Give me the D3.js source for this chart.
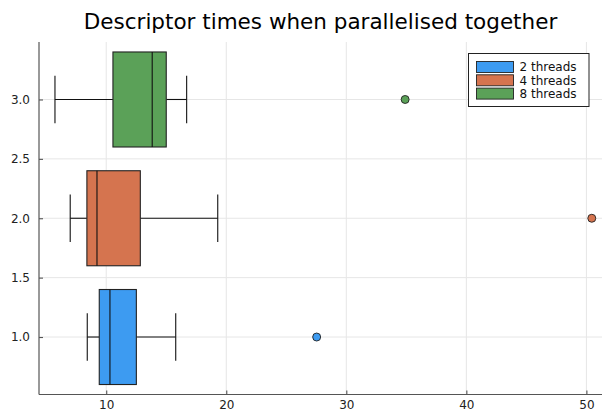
<!DOCTYPE html>
<html>
<head>
<meta charset="utf-8">
<script src="https://cdn.jsdelivr.net/npm/d3@7"></script>
<style>
  html, body { margin: 0; padding: 0; background: #fff; }
  svg { display: block; font-family: "DejaVu Sans", sans-serif; }
</style>
</head>
<body>
<svg id="chart" width="603" height="412"></svg>
<script>
// Five-number summaries per thread count (seconds)
const seriesNames = ["2 threads", "4 threads", "8 threads"];
const positions   = [1, 2, 3];
const whiskerLow  = [8.42, 7.0, 5.73];
const quartile1   = [9.42, 8.39, 10.56];
const medians     = [10.31, 9.23, 13.83];
const quartile3   = [12.51, 12.84, 15.0];
const whiskerHigh = [15.79, 19.29, 16.70];
const outliers    = [[27.53], [50.45], [34.9]];
const colors      = ["#3d9bf1", "#d5744f", "#5ba158"];

const xTicks = [10, 20, 30, 40, 50];
const yTicks = [1.0, 1.5, 2.0, 2.5, 3.0];

const svg = d3.select("#chart");
const plot = { left: 39, right: 602, top: 42, bottom: 394.5 };

const x = d3.scaleLinear().domain([4.4, 51.3]).range([plot.left, plot.right]);
const y = d3.scaleLinear().domain([0.516, 3.484]).range([plot.bottom, plot.top]);

// grid
const grid = svg.append("g").attr("stroke", "#e6e6e6").attr("stroke-width", 1);
grid.selectAll(".gx").data(xTicks).join("line")
  .attr("x1", d => x(d)).attr("x2", d => x(d))
  .attr("y1", plot.top).attr("y2", plot.bottom);
grid.selectAll(".gy").data(yTicks).join("line")
  .attr("x1", plot.left).attr("x2", plot.right)
  .attr("y1", d => y(d)).attr("y2", d => y(d));

// boxes
const halfW = 0.4, capHalf = 0.2;
const boxes = svg.append("g");
positions.forEach((p, i) => {
  const g = boxes.append("g");
  const line = (x1, y1, x2, y2) => g.append("line")
    .attr("x1", x1).attr("y1", y1).attr("x2", x2).attr("y2", y2)
    .attr("stroke", "#111").attr("stroke-width", 1.1);
  // whiskers
  line(x(whiskerLow[i]), y(p), x(quartile1[i]), y(p));
  line(x(quartile3[i]), y(p), x(whiskerHigh[i]), y(p));
  line(x(whiskerLow[i]), y(p - capHalf), x(whiskerLow[i]), y(p + capHalf));
  line(x(whiskerHigh[i]), y(p - capHalf), x(whiskerHigh[i]), y(p + capHalf));
  // box
  g.append("rect")
    .attr("x", x(quartile1[i])).attr("y", y(p + halfW))
    .attr("width", x(quartile3[i]) - x(quartile1[i]))
    .attr("height", y(p - halfW) - y(p + halfW))
    .attr("fill", colors[i]).attr("stroke", "#222").attr("stroke-width", 1.1);
  line(x(medians[i]), y(p + halfW), x(medians[i]), y(p - halfW));
  // outliers
  g.selectAll("circle").data(outliers[i]).join("circle")
    .attr("cx", d => x(d)).attr("cy", y(p)).attr("r", 4)
    .attr("fill", colors[i]).attr("stroke", "#222").attr("stroke-width", 0.9);
});

// axes
const xAxis = d3.axisBottom(x).tickValues(xTicks).tickSizeInner(-4).tickSizeOuter(0)
  .tickFormat(d3.format("d")).tickPadding(6);
const yAxis = d3.axisLeft(y).tickValues(yTicks).tickSizeInner(-4).tickSizeOuter(0)
  .tickFormat(d3.format(".1f")).tickPadding(9);

const gx = svg.append("g").attr("transform", `translate(0,${plot.bottom})`).call(xAxis);
const gy = svg.append("g").attr("transform", `translate(${plot.left},0)`).call(yAxis);
[gx, gy].forEach(g => {
  g.select(".domain").attr("stroke", "#555").attr("stroke-width", 1.2);
  g.selectAll(".tick line").attr("stroke", "#555").attr("stroke-width", 1.1);
  g.selectAll(".tick text").attr("fill", "#222")
    .style("font-family", "DejaVu Sans, sans-serif").style("font-size", "12px");
});
gx.select(".domain").attr("d", `M${plot.left},0H${plot.right}`);
gy.select(".domain").attr("d", `M0,${plot.bottom}V${plot.top}`);

// title
svg.append("text")
  .attr("x", (plot.left + plot.right) / 2).attr("y", 29)
  .attr("text-anchor", "middle").attr("fill", "#000")
  .style("font-size", "21.5px")
  .text("Descriptor times when parallelised together");

// legend
const legend = svg.append("g").attr("transform", "translate(468.5,53.5)");
legend.append("rect").attr("width", 120.5).attr("height", 53)
  .attr("fill", "#fff").attr("stroke", "#222").attr("stroke-width", 1);
seriesNames.forEach((name, i) => {
  const cy = 13.5 + i * 13.3;
  legend.append("rect").attr("x", 8).attr("y", cy - 5.5)
    .attr("width", 37).attr("height", 11)
    .attr("fill", colors[i]).attr("stroke", "#222").attr("stroke-width", 0.9);
  legend.append("text").attr("x", 51).attr("y", cy + 4.3)
    .attr("fill", "#111").style("font-size", "12px").text(name);
});
</script>
</body>
</html>
